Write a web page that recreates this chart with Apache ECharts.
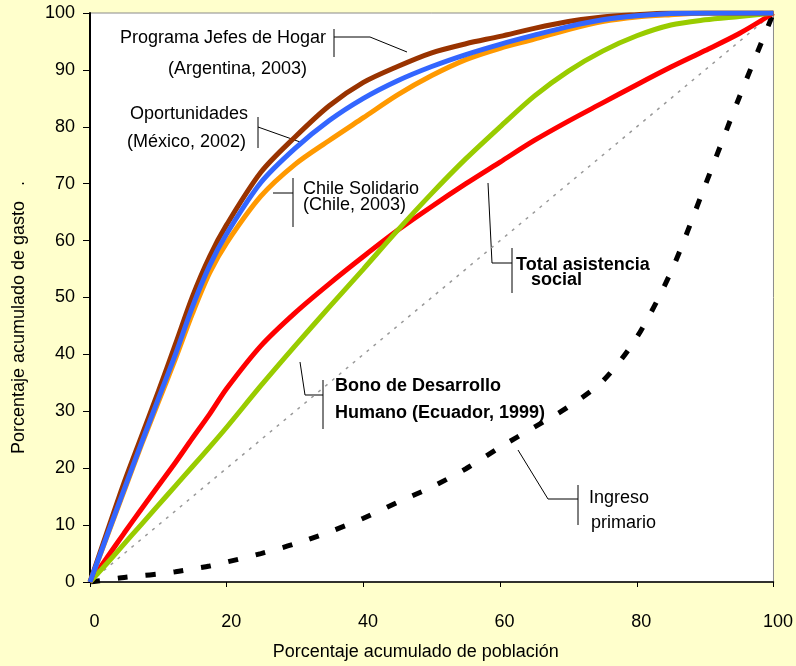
<!DOCTYPE html>
<html>
<head>
<meta charset="utf-8">
<script src="https://cdn.jsdelivr.net/npm/echarts@6/dist/echarts.min.js"></script>
<style>
html,body{margin:0;padding:0;background:#FFFFCC;}
#chart{width:796px;height:666px;}
</style>
</head>
<body>
<div id="chart"></div>
<script>
// Percentage of population (x values)
const popPct = [0, 2.5, 5, 7.5, 10, 12.5, 15, 17.5, 20, 25, 30, 35, 40, 45, 50, 55, 60, 65, 70, 75, 80, 85, 90, 95, 100];

// Cumulative spending share for each programme
const jefesHogar      = [0, 8.8, 17.5, 25.5, 33.5, 41.8, 50.2, 57.2, 62.8, 72, 78.2, 83.7, 87.8, 90.6, 93, 94.6, 95.9, 97.3, 98.5, 99.3, 99.7, 100, 100, 100, 100];
const oportunidades   = [0, 8.2, 16.3, 24.3, 32.2, 40, 48.4, 55.6, 61.2, 70.2, 76.2, 81.1, 85, 88.1, 90.6, 92.7, 94.5, 96.1, 97.6, 98.8, 99.5, 99.9, 100, 100, 100];
const chileSolidario  = [0, 8, 16, 24, 31.6, 39.2, 47.2, 54.3, 59.6, 67.8, 73.4, 77.6, 81.6, 85.6, 89, 91.8, 93.8, 95.4, 97.1, 98.5, 99.3, 99.7, 100, 100, 100];
const bonoDesarrollo  = [0, 3.3, 6.7, 10.1, 13.5, 16.9, 20.3, 23.7, 27.2, 34.5, 41.5, 48.3, 55, 61.8, 68.3, 74.4, 80, 85.4, 89.8, 93.3, 96, 97.9, 98.8, 99.4, 100];
const totalAsistencia = [0, 4.3, 8.6, 12.8, 16.9, 21, 25.3, 29.5, 34, 41.5, 47.3, 52.4, 57.2, 61.8, 66, 70, 73.8, 77.6, 81, 84.2, 87.4, 90.5, 93.4, 96.4, 100];
const ingresoPrimario = [0, 0.4, 0.8, 1.1, 1.4, 1.8, 2.3, 2.8, 3.5, 5, 6.7, 8.8, 11.2, 14, 16.7, 19.9, 23.7, 27.2, 30.8, 35.3, 43, 54.5, 69.7, 85.2, 100];

// Equality line
const igualdadX = [0, 100];
const igualdadY = [0, 100];

// Axis ticks
const xTicks = { min: 0, max: 100, interval: 20 };
const yTicks = { min: 0, max: 100, interval: 10 };

const pair = (xs, ys) => xs.map((x, i) => [x, ys[i]]);

const FONT = '"Liberation Sans", Arial, sans-serif';
const chart = echarts.init(document.getElementById('chart'));

function line(name, data, color, extra) {
  return Object.assign({
    name: name,
    type: 'line',
    data: data,
    showSymbol: false,
    smooth: 0.3,
    lineStyle: { color: color, width: 5 },
    itemStyle: { color: color },
    animation: false
  }, extra || {});
}

function txt(text, x, y, bold) {
  return {
    type: 'text', left: x, top: y - 10, silent: true,
    style: { text: text, fill: '#000', font: (bold ? 'bold ' : '') + '18px ' + FONT }
  };
}
function poly(points) {
  return { type: 'polyline', silent: true, shape: { points: points }, style: { stroke: '#000', lineWidth: 1, fill: null } };
}

const option = {
  backgroundColor: '#FFFFCC',
  animation: false,
  grid: { left: 90, right: 21, top: 13, bottom: 80, show: true, backgroundColor: '#FFFFFF', borderColor: '#8a8a8a', borderWidth: 1 },
  xAxis: {
    type: 'value', min: xTicks.min, max: xTicks.max, interval: xTicks.interval,
    name: 'Porcentaje acumulado de población', nameLocation: 'middle', nameGap: 61,
    nameTextStyle: { fontFamily: FONT, fontSize: 18, color: '#000', padding: [0, 32, 0, 0] },
    axisLine: { lineStyle: { color: '#000', width: 1.5 } },
    axisTick: { show: true, inside: false, length: 5, lineStyle: { color: '#000' } },
    axisLabel: { fontFamily: FONT, fontSize: 18, color: '#000', margin: 31, padding: [0, 0, 0, 9] },
    splitLine: { show: false }
  },
  yAxis: {
    type: 'value', min: yTicks.min, max: yTicks.max, interval: yTicks.interval,
    name: 'Porcentaje acumulado de gasto   .', nameLocation: 'middle', nameGap: 62,
    nameTextStyle: { fontFamily: FONT, fontSize: 18, color: '#000', padding: [0, 40, 0, 0] },
    axisLine: { show: true, lineStyle: { color: '#000', width: 2 } },
    axisTick: { show: true, inside: false, length: 7, lineStyle: { color: '#000' } },
    axisLabel: { fontFamily: FONT, fontSize: 18, color: '#000', margin: 15 },
    splitLine: { show: false }
  },
  series: [
    line('Igualdad', pair(igualdadX, igualdadY), '#999999', { smooth: false, lineStyle: { color: '#999999', width: 1.5, type: [3, 6] } }),
    line('Ingreso primario', pair(popPct, ingresoPrimario), '#000000', { lineStyle: { color: '#000', width: 5, type: [10, 18] } }),
    line('Total asistencia social', pair(popPct, totalAsistencia), '#FF0000'),
    line('Bono de Desarrollo Humano', pair(popPct, bonoDesarrollo), '#99CC00'),
    line('Chile Solidario', pair(popPct, chileSolidario), '#FF9900'),
    line('Programa Jefes de Hogar', pair(popPct, jefesHogar), '#993300'),
    line('Oportunidades', pair(popPct, oportunidades), '#3366FF')
  ],
  graphic: [
    txt('Programa Jefes de Hogar', 120, 39),
    txt('(Argentina, 2003)', 168, 70),
    poly([[334, 29], [334, 57]]),
    poly([[334, 37], [370, 37], [407, 52]]),

    txt('Oportunidades', 130, 115),
    txt('(México, 2002)', 127, 143),
    poly([[258, 117], [258, 148]]),
    poly([[258, 127], [303, 143]]),

    txt('Chile Solidario', 303, 190),
    txt('(Chile, 2003)', 303, 206),
    poly([[293, 178], [293, 227]]),
    poly([[273, 193], [293, 193]]),

    txt('Total asistencia', 516, 266, true),
    txt('social', 531, 281, true),
    poly([[512, 248], [512, 293]]),
    poly([[488, 183], [492, 263], [512, 263]]),

    txt('Bono de Desarrollo', 335, 387, true),
    txt('Humano (Ecuador, 1999)', 335, 414, true),
    poly([[323, 380], [323, 429]]),
    poly([[300, 362], [305, 395], [323, 395]]),

    txt('Ingreso', 589, 499),
    txt('primario', 591, 524),
    poly([[578, 485], [578, 525]]),
    poly([[518, 450], [548, 499], [578, 499]])
  ]
};
chart.setOption(option);
</script>
</body>
</html>
